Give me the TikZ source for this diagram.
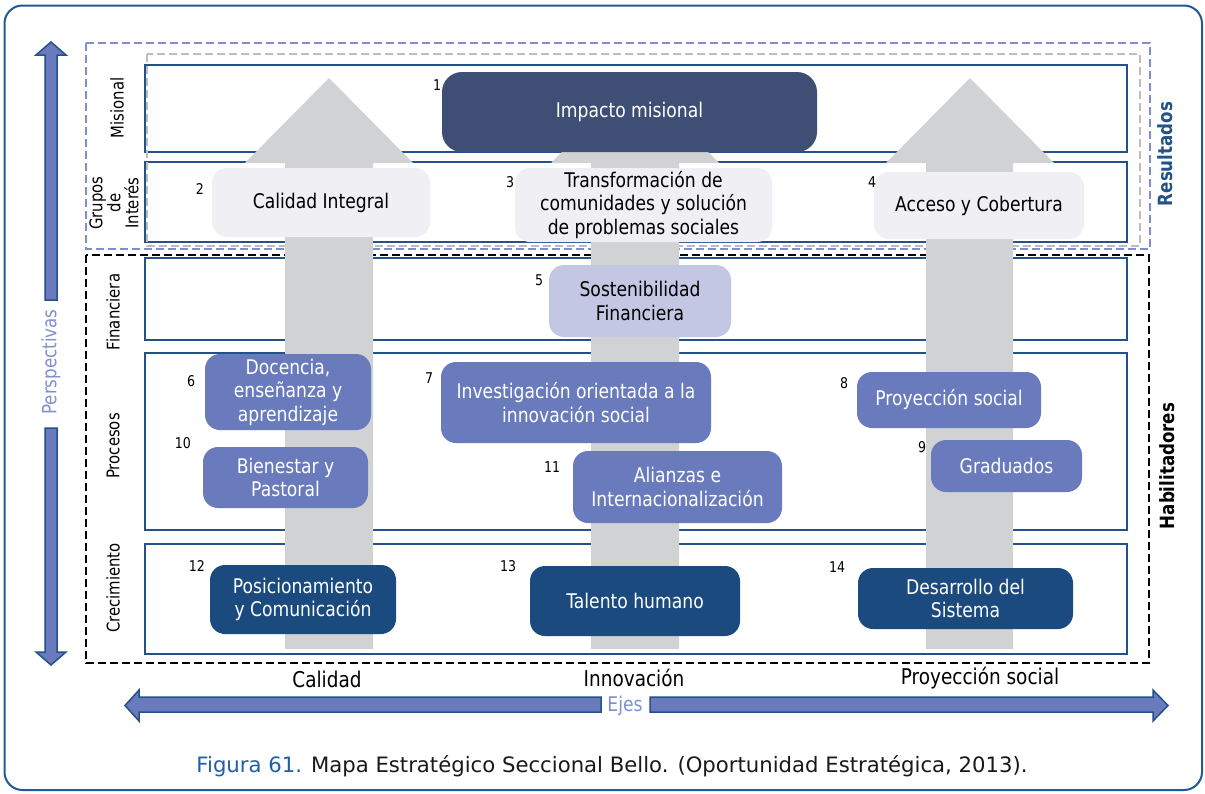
\documentclass[tikz,border=0pt]{standalone}
\usepackage{fontspec}
\setmainfont{DejaVu Sans}[FakeStretch=0.85]
\newfontfamily\capfont{DejaVu Sans}
\definecolor{framecol}{HTML}{1F5A96}
\definecolor{lanecol}{HTML}{23518A}
\definecolor{impcol}{HTML}{3E4E74}
\definecolor{lightbox}{HTML}{EFEFF4}
\definecolor{lavbox}{HTML}{C3C7E3}
\definecolor{midbox}{HTML}{6A7BBD}
\definecolor{darkbox}{HTML}{1B4A7F}
\definecolor{arrowgray}{HTML}{D1D2D4}
\definecolor{bluedash}{HTML}{7F8ED0}
\definecolor{graydash}{HTML}{BDBDBD}
\definecolor{perscol}{HTML}{8090D0}
\definecolor{figcol}{HTML}{1F5FA8}
\begin{document}
\begin{tikzpicture}[x=1pt,y=-1pt,
  box/.style={rounded corners=15pt, draw=none, align=center, inner sep=0pt,
    font=\fontsize{20.2}{23.5}\selectfont},
  light/.style={box, fill=lightbox, text=black},
  lav/.style={box, fill=lavbox, text=black},
  mid/.style={box, fill=midbox, text=white},
  darkb/.style={box, fill=darkbox, text=white},
  num/.style={font=\fontsize{14.8}{15}\selectfont, inner sep=0pt, text=black},
  lane/.style={draw=lanecol, line width=2pt},
  lanelab/.style={rotate=90, font=\fontsize{17.5}{18}\selectfont, align=center, inner sep=0pt},
  bigarrow/.style={fill=arrowgray, draw=none},
  bluearrow/.style={fill=midbox, draw=lanecol, line width=1.5pt, line join=miter},
  axislab/.style={font=\fontsize{21.7}{22}\selectfont, inner sep=0pt}
]
\useasboundingbox (0,0) rectangle (1205,793);
\fill[white] (0,0) rectangle (1205,793);
% outer frame
\draw[framecol, line width=2pt, rounded corners=18pt] (4.5,5.5) rectangle (1202,790);

% lanes
\draw[lane] (145,65) rectangle (1127,152);
\draw[lane] (145,162) rectangle (1127,242);
\draw[lane] (145,258) rectangle (1127,340);
\draw[lane] (145,353) rectangle (1127,530);
\draw[lane] (145,544) rectangle (1127,654);

% dashed groups
\draw[bluedash, line width=1.5pt, dash pattern=on 8pt off 4pt] (86,43) rectangle (1150,249);
\draw[graydash, line width=1.5pt, dash pattern=on 8pt off 4pt] (147,54) rectangle (1140,246);
\draw[black, line width=1.5pt, dash pattern=on 8pt off 4pt] (86,255) rectangle (1149,663);

% big gray arrows
\fill[bigarrow] (285,649) -- (285,163) -- (245,163) -- (329,78) -- (413,163) -- (373,163) -- (373,649) -- cycle;
\fill[bigarrow] (591,649) -- (591,163) -- (551,163) -- (635,78) -- (719,163) -- (679,163) -- (679,649) -- cycle;
\fill[bigarrow] (926,649) -- (926,163) -- (886,163) -- (970,78) -- (1054,163) -- (1013,163) -- (1013,649) -- cycle;

% left vertical double arrow
\draw[bluearrow] (45,300) -- (45,55) -- (36,55) -- (51,42) -- (66,55) -- (57,55) -- (57,300) -- cycle;
\draw[bluearrow] (45,428) -- (45,652) -- (36,652) -- (51,665) -- (66,652) -- (57,652) -- (57,428) -- cycle;
\node[rotate=90, text=perscol, font=\fontsize{19.6}{20}\selectfont, inner sep=0pt] (persp) at (51,362) {Perspectivas};

% bottom horizontal double arrow
\draw[bluearrow] (601,697) -- (139,697) -- (139,690) -- (125,705.5) -- (139,721) -- (139,712) -- (601,712) -- cycle;
\draw[bluearrow] (650,697) -- (1153,697) -- (1153,690) -- (1168,705.5) -- (1153,721) -- (1153,712) -- (650,712) -- cycle;
\node[text=perscol, font=\fontsize{20.2}{20}\selectfont, inner sep=0pt] (ejes) at (625,706) {Ejes};

% boxes
\node[box, fill=impcol, text=white, rounded corners=20pt, minimum width=375pt, minimum height=80pt] (n1) at (629.5,112) {Impacto misional};
\node[light, minimum width=218pt, minimum height=69pt] (n2) at (321,202.5) {Calidad Integral};
\node[light, minimum width=257pt, minimum height=74pt] (n3) at (643.5,205) {Transformación de\\comunidades y solución\\de problemas sociales};
\node[light, minimum width=210pt, minimum height=67pt] (n4) at (979,205.5) {Acceso y Cobertura};
\node[lav, minimum width=182pt, minimum height=72pt] (n5) at (640,301) {Sostenibilidad\\Financiera};
\node[mid, minimum width=166pt, minimum height=76pt] (n6) at (288,392) {Docencia,\\enseñanza y\\aprendizaje};
\node[mid, minimum width=270pt, minimum height=81pt] (n7) at (576,402.5) {Investigación orientada a la\\innovación social};
\node[mid, minimum width=184pt, minimum height=56pt] (n8) at (949,400) {Proyección social};
\node[mid, minimum width=151pt, minimum height=52pt] (n9) at (1006.5,466) {Graduados};
\node[mid, minimum width=165pt, minimum height=61pt] (n10) at (285.5,477.5) {Bienestar y\\Pastoral};
\node[mid, minimum width=209pt, minimum height=72pt] (n11) at (677.5,487) {Alianzas e\\Internacionalización};
\node[darkb, minimum width=186pt, minimum height=69pt] (n12) at (303,599.5) {Posicionamiento\\y Comunicación};
\node[darkb, minimum width=210pt, minimum height=70pt] (n13) at (635,601) {Talento humano};
\node[darkb, minimum width=215pt, minimum height=61pt] (n14) at (965.5,598.5) {Desarrollo del\\Sistema};

% numbers
\node[num] (k1) at (437,85) {1};
\node[num] (k2) at (200,189) {2};
\node[num] (k3) at (510,182) {3};
\node[num] (k4) at (872,182) {4};
\node[num] (k5) at (539,280) {5};
\node[num] (k6) at (191,381) {6};
\node[num] (k7) at (429,378) {7};
\node[num] (k8) at (844,383) {8};
\node[num] (k9) at (922,447) {9};
\node[num] (k10) at (183,443) {10};
\node[num] (k11) at (552,467) {11};
\node[num] (k12) at (197,566) {12};
\node[num] (k13) at (508,566) {13};
\node[num] (k14) at (837,567) {14};

% lane labels
\node[lanelab] (l1) at (117,108) {Misional};
\node[lanelab] (l2) at (114,203) {Grupos\\de\\Interés};
\node[lanelab] (l3) at (113,312) {Financiera};
\node[lanelab] (l4) at (113,446) {Procesos};
\node[lanelab] (l5) at (113,588) {Crecimiento};

% right labels
\node[rotate=90, text=lanecol, font=\bfseries\fontsize{19.6}{20}\selectfont, inner sep=0pt] (res) at (1165,154) {Resultados};
\node[rotate=90, text=black, font=\bfseries\fontsize{19.6}{20}\selectfont, inner sep=0pt] (hab) at (1167,466) {Habilitadores};

% axis labels
\node[axislab] (a1) at (327,679) {Calidad};
\node[axislab] (a2) at (634,678) {Innovación};
\node[axislab] (a3) at (980,678) {Proyección social};

% caption
\node[font=\capfont\fontsize{21.2}{22}\selectfont, inner sep=0pt, text=black!90] (cap) at (612,766) {\textcolor{figcol}{Figura 61.} Mapa Estratégico Seccional Bello. (Oportunidad Estratégica, 2013).};
\end{tikzpicture}
\end{document}
